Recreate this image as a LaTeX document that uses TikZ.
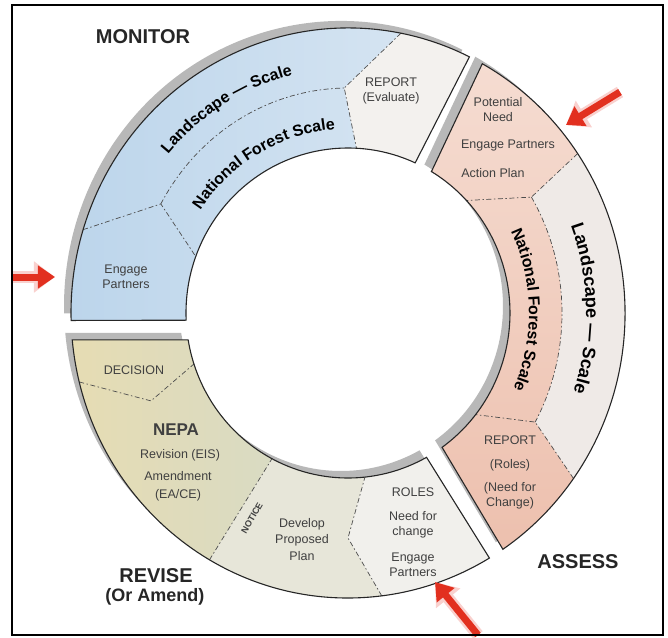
\documentclass[tikz,border=0pt]{standalone}
\usepackage{fontspec}
\setmainfont{Liberation Sans}
\usepackage{xcolor}
\usetikzlibrary{arrows.meta, decorations.text}

\definecolor{monblue}{HTML}{BCD5EB}
\definecolor{monlight}{HTML}{DAE7F3}
\definecolor{cellwhite}{HTML}{F3F1EE}
\definecolor{asspink}{HTML}{EDC0AE}
\definecolor{asslight}{HTML}{F5DCD1}
\definecolor{assgrey}{HTML}{EFEAE7}
\definecolor{revyellow}{HTML}{E6DCB3}
\definecolor{revgreen}{HTML}{CBD9D4}
\definecolor{devgrey}{HTML}{E7E6D9}
\definecolor{rolegrey}{HTML}{F1F0EC}
\definecolor{shadowgrey}{HTML}{B8B8B8}
\definecolor{arrowred}{HTML}{E2301F}

\tikzset{
	rout/.style={x radius=277pt, y radius=285pt},
	rmid/.style={x radius=214pt, y radius=225pt},
	rin/.style={x radius=162pt, y radius=165pt}
}

% the three pieces of the ring, centre at the origin
\newcommand{\monseg}{(64:277pt and 285pt) arc[start angle=64, end angle=181.5, rout] -- (182.5:162pt and 165pt) arc[start angle=182.5, end angle=65.5, rin] -- cycle}
\newcommand{\assseg}{(61:277pt and 285pt) arc[start angle=61, end angle=-56, rout] -- (-54.5:162pt and 165pt) arc[start angle=-54.5, end angle=59, rin] -- cycle}
\newcommand{\revseg}{(185.4:277pt and 285pt) arc[start angle=185.4, end angle=300.7, rout] -- (299:162pt and 165pt) arc[start angle=299, end angle=189.4, rin] -- cycle}

\begin{document}
\begin{tikzpicture}[x=1pt, y=1pt, >=Latex]
	\tikzstyle{shadow} = [fill=shadowgrey]
	\tikzstyle{rim} = [draw=black!85, line width=1.1pt]
	\tikzstyle{cut} = [draw=black!70, line width=0.7pt, dash pattern=on 5pt off 2.5pt on 1.5pt off 2.5pt]
	\tikzstyle{cell} = [font=\fontsize{12.5}{15}\selectfont, text=black!75, align=center, inner sep=0pt]
	\tikzstyle{phase} = [font=\fontsize{20}{22}\selectfont\bfseries, text=black!85, align=center, inner sep=0pt]
	\tikzstyle{pointer} = [-{Triangle[length=17pt, width=22pt]}, line width=7pt, draw=arrowred]
	\tikzstyle{halo} = [-{Triangle[length=21pt, width=30pt]}, line width=12pt, draw=arrowred!22]
	
	\useasboundingbox (-348,-324) rectangle (320,313);
	
	% points on the ring
	\coordinate (repout) at (79:277pt and 285pt);
	\coordinate (repmid) at (91:214pt and 225pt);
	\coordinate (repin)  at (87:162pt and 165pt);
	\coordinate (engout) at (163:277pt and 285pt);
	\coordinate (engmid) at (151:214pt and 225pt);
	\coordinate (engin)  at (160:162pt and 165pt);
	\coordinate (potout) at (34:277pt and 285pt);
	\coordinate (potmid) at (31:214pt and 225pt);
	\coordinate (potin)  at (43:162pt and 165pt);
	\coordinate (rolout) at (-35.5:277pt and 285pt);
	\coordinate (rolmid) at (-29:214pt and 225pt);
	\coordinate (rolin)  at (-38:162pt and 165pt);
	\coordinate (decout) at (194:277pt and 285pt);
	\coordinate (decmid) at (203:214pt and 225pt);
	\coordinate (decin)  at (198:162pt and 165pt);
	\coordinate (notout) at (240:277pt and 285pt);
	\coordinate (notin)  at (242:162pt and 165pt);
	\coordinate (devout) at (277:277pt and 285pt);
	\coordinate (devmid) at (270:214pt and 225pt);
	\coordinate (devin)  at (276:162pt and 165pt);
	
	% shadows
	\fill[shadow, shift={(-7,7)}] \monseg;
	\fill[shadow, shift={(-7,7)}] \assseg;
	\fill[shadow, shift={(-7,7)}] \revseg;
	
	% monitor
	\shade[left color=monblue, right color=monlight] \monseg;
	\fill[cellwhite] (64:277pt and 285pt) arc[start angle=64, end angle=79, rout] -- (repmid) -- (repin) arc[start angle=87, end angle=65.5, rin] -- cycle;
	
	% assess
	\fill[assgrey] \assseg;
	\shade[top color=asslight, bottom color=asspink] (61:277pt and 285pt) arc[start angle=61, end angle=34, rout] -- (potmid) arc[start angle=31, end angle=-29, rmid] -- (rolout) arc[start angle=-35.5, end angle=-56, rout] -- (-54.5:162pt and 165pt) arc[start angle=-54.5, end angle=59, rin] -- cycle;
	
	% revise
	\shade[left color=revyellow, right color=revgreen] \revseg;
	\fill[devgrey] (notout) arc[start angle=240, end angle=300.7, rout] -- (299:162pt and 165pt) arc[start angle=299, end angle=242, rin] -- cycle;
	\fill[rolegrey] (devout) arc[start angle=277, end angle=300.7, rout] -- (299:162pt and 165pt) arc[start angle=299, end angle=276, rin] -- (devmid) -- cycle;
	
	% dashed cells
	\draw[cut] (repout) -- (repmid) -- (repin);
	\draw[cut] (engout) -- (engmid) -- (engin);
	\draw[cut] (engmid) arc[start angle=151, end angle=91, rmid];
	\draw[cut] (potout) -- (potmid) -- (potin);
	\draw[cut] (potmid) arc[start angle=31, end angle=-29, rmid];
	\draw[cut] (rolout) -- (rolmid) -- (rolin);
	\draw[cut] (decout) -- (decmid) -- (decin);
	\draw[cut] (notout) -- (notin);
	\draw[cut] (devout) -- (devmid) -- (devin);
	
	\draw[rim] \monseg;
	\draw[rim] \assseg;
	\draw[rim] \revseg;
	
	% curved scale labels
	\path[decorate, decoration={text along path, text align=center, text={|\fontsize{16}{18}\selectfont\bfseries|Landscape — Scale}}] (150:236pt and 245pt) arc[start angle=150, end angle=93, x radius=236pt, y radius=245pt];
	\path[decorate, decoration={text along path, text align=center, text={|\fontsize{16}{18}\selectfont\bfseries|National Forest Scale}}] (152:178pt and 184pt) arc[start angle=152, end angle=88, x radius=178pt, y radius=184pt];
	\path[decorate, decoration={text along path, text align=center, text={|\fontsize{18}{20}\selectfont\bfseries|Landscape — Scale}}] (30:238pt and 247pt) arc[start angle=30, end angle=-28, x radius=238pt, y radius=247pt];
	\path[decorate, decoration={text along path, text align=center, text={|\fontsize{16}{18}\selectfont\bfseries|National Forest Scale}}] (31:181pt and 188pt) arc[start angle=31, end angle=-29, x radius=181pt, y radius=188pt];
	
	% phase names
	\node[phase] at (-205,276) (monitor) {MONITOR};
	\node[phase] at (230,-249) (assess) {ASSESS};
	\node[phase] at (-192,-263) (revise) {REVISE};
	\node[phase, font=\fontsize{18}{20}\selectfont\bfseries] at (-193,-284) (amend) {(Or Amend)};
	
	% cell texts
	\node[cell] at (43,222) (evaluate) {REPORT\\(Evaluate)};
	\node[cell] at (-222,36) (engage1) {Engage\\Partners};
	\node[cell] at (150,203) (potential) {Potential\\Need};
	\node[cell] at (160,168) (engage2) {Engage Partners};
	\node[cell] at (145,140) (action) {Action Plan};
	\node[cell] at (162,-127) (report) {REPORT};
	\node[cell] at (162,-152) (rolesb) {(Roles)};
	\node[cell] at (162,-182.5) (change) {(Need for\\Change)};
	\node[cell] at (-214,-57) (decision) {DECISION};
	\node[cell, font=\fontsize{17}{20}\selectfont\bfseries] at (-172,-117) (nepa) {NEPA};
	\node[cell] at (-168,-142) (revision) {Revision (EIS)};
	\node[cell, font=\fontsize{12.5}{18}\selectfont] at (-170,-173) (amendment) {Amendment\\(EA/CE)};
	\node[cell, font=\fontsize{12.5}{16.5}\selectfont] at (-46,-226.5) (develop) {Develop\\Proposed\\Plan};
	\node[cell] at (65,-179) (roles) {ROLES};
	\node[cell] at (65,-211.5) (needfor) {Need for\\change};
	\node[cell] at (65,-251.5) (engage3) {Engage\\Partners};
	\node[cell, font=\fontsize{9}{10}\selectfont\bfseries, rotate=60] at (-96,-205) (notice) {NOTICE};
	
	% red pointers
	\coordinate (tail1) at (272,221);
	\coordinate (tip1)  at (218,188);
	\coordinate (tail2) at (-335,36);
	\coordinate (tip2)  at (-293,36);
	\coordinate (tail3) at (130,-322);
	\coordinate (tip3)  at (87,-269);
	\draw[halo] (tail1) -- (tip1);
	\draw[halo] (tail2) -- (tip2);
	\draw[halo] (tail3) -- (tip3);
	\draw[pointer] (tail1) -- (tip1);
	\draw[pointer] (tail2) -- (tip2);
	\draw[pointer] (tail3) -- (tip3);
	
	% frame
	\draw[line width=2pt] (-336,308) rectangle (315,-322);
\end{tikzpicture}
\end{document}
